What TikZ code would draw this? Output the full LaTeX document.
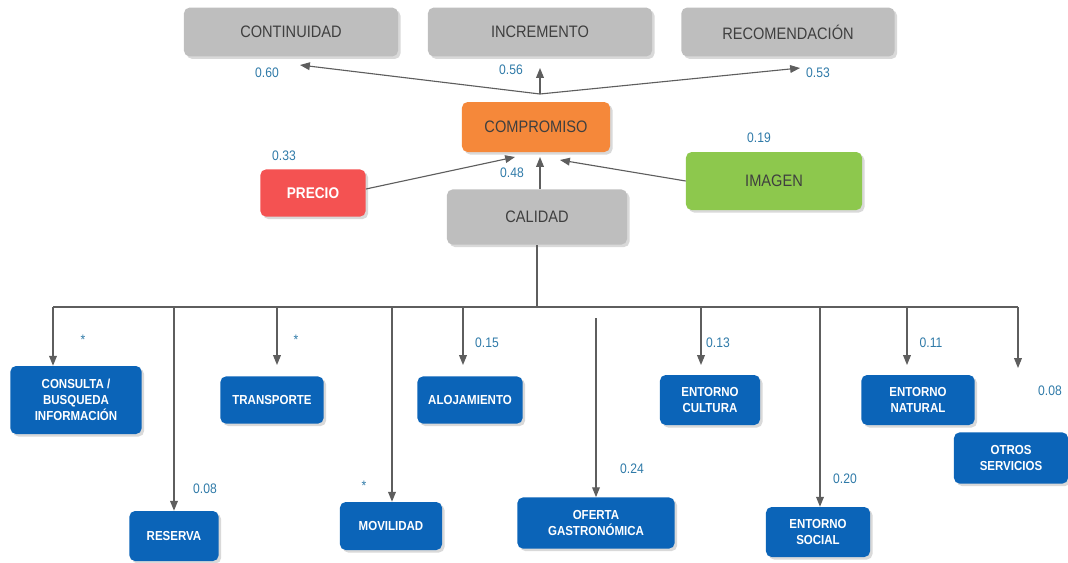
\documentclass[tikz,border=0pt]{standalone}
\usepackage{fontspec}
\setmainfont{Liberation Sans}
\newfontfamily\narrowfont[FakeStretch=0.88]{Liberation Sans}
\usetikzlibrary{
    arrows.meta,  % For arrow tips
    shadows,      % For box shadows
    calc          % For coordinate calculations
}
\definecolor{boxgray}{HTML}{BEBEBE}
\definecolor{txtgray}{HTML}{3F3F3F}
\definecolor{boxblue}{HTML}{0B64B8}
\definecolor{boxorange}{HTML}{F5883A}
\definecolor{boxred}{HTML}{F45252}
\definecolor{boxgreen}{HTML}{8DC84D}
\definecolor{linegray}{HTML}{5E5E5E}
\definecolor{coefblue}{HTML}{2F7AA8}

\begin{document}
\begin{tikzpicture}[
    x=0.025cm, y=-0.025cm, % pixel grid of the layout
    >={Triangle[length=7pt,width=5.5pt]}, % Default arrow tip
    conn/.style={draw=linegray, line width=0.8pt}, % Connector lines
    arr/.style={conn, ->},
    box/.style={rounded corners=4pt, align=center, inner sep=2pt,
        drop shadow={opacity=0.3, shadow xshift=1.8pt, shadow yshift=-1.8pt}},
    graybox/.style={box, fill=boxgray, text=txtgray, font=\narrowfont\fontsize{11.8}{13}\selectfont},
    bluebox/.style={box, fill=boxblue, text=white, font=\narrowfont\bfseries\fontsize{9.3}{11.5}\selectfont},
    coef/.style={text=coefblue, font=\narrowfont\fontsize{9.8}{11}\selectfont, inner sep=0pt}
]
    \useasboundingbox (0,0) rectangle (1068,562);

    % Outcome boxes
    \node[graybox, minimum width=5.35cm, minimum height=1.22cm] (cont) at (291,32) {CONTINUIDAD};
    \node[graybox, minimum width=5.6cm, minimum height=1.22cm] (incr) at (540,32) {INCREMENTO};
    \node[graybox, minimum width=5.33cm, minimum height=1.22cm] (recom) at (788,32) {RECOMENDACIÓN};

    % Central and driver boxes
    \node[graybox, fill=boxorange, minimum width=3.7cm, minimum height=1.25cm] (comp) at (536,127) {COMPROMISO};
    \node[graybox, fill=boxred, text=white, font=\narrowfont\bfseries\fontsize{11}{13}\selectfont,
        minimum width=2.63cm, minimum height=1.18cm] (precio) at (313,193) {PRECIO};
    \node[graybox, fill=boxgreen, minimum width=4.4cm, minimum height=1.45cm] (imagen) at (774,181) {IMAGEN};
    \node[graybox, minimum width=4.5cm, minimum height=1.38cm] (calidad) at (537,217) {CALIDAD};

    % Arrows from COMPROMISO to the outcomes
    \coordinate (hub) at (540,94);
    \coordinate (toCont) at (300,65);
    \coordinate (toIncr) at (540,68);
    \coordinate (toRecom) at (800,68);
    \draw[arr] (hub) -- (toCont);
    \draw[arr] (hub) -- (toIncr);
    \draw[arr] (hub) -- (toRecom);
    \node[coef] at (267,73) {0.60};
    \node[coef] at (511,70) {0.56};
    \node[coef] at (818,73) {0.53};

    % Arrows into COMPROMISO
    \coordinate (fromPrecio) at (515,157);
    \coordinate (fromCalidad) at (540,157);
    \coordinate (fromImagen) at (560,160);
    \draw[arr] (precio.east) ++(0,-4) -- (fromPrecio);
    \draw[arr] (calidad.north -| fromCalidad) -- (fromCalidad);
    \draw[arr] (imagen.west) -- (fromImagen);
    \node[coef] at (284,156) {0.33};
    \node[coef] at (512,173) {0.48};
    \node[coef] at (759,138) {0.19};

    % Quality dimensions
    \node[bluebox, minimum width=3.28cm, minimum height=1.7cm] (consulta) at (76,400) {CONSULTA /\\BUSQUEDA\\INFORMACIÓN};
    \node[bluebox, minimum width=2.58cm, minimum height=1.18cm] (transp) at (272,400) {TRANSPORTE};
    \node[bluebox, minimum width=2.63cm, minimum height=1.18cm] (aloj) at (470,400) {ALOJAMIENTO};
    \node[bluebox, minimum width=2.5cm, minimum height=1.25cm] (cultura) at (710,400) {ENTORNO\\CULTURA};
    \node[bluebox, minimum width=2.83cm, minimum height=1.25cm] (natural) at (918,400) {ENTORNO\\NATURAL};
    \node[bluebox, minimum width=2.85cm, minimum height=1.28cm] (otros) at (1011,458) {OTROS\\SERVICIOS};
    \node[bluebox, minimum width=2.23cm, minimum height=1.25cm] (reserva) at (174,536) {RESERVA};
    \node[bluebox, minimum width=2.55cm, minimum height=1.2cm] (movil) at (391,526) {MOVILIDAD};
    \node[bluebox, minimum width=3.93cm, minimum height=1.28cm] (oferta) at (596,523) {OFERTA\\GASTRONÓMICA};
    \node[bluebox, minimum width=2.6cm, minimum height=1.25cm] (social) at (818,532) {ENTORNO\\SOCIAL};

    % Bus from CALIDAD
    \coordinate (stem) at (537,307);
    \coordinate (busL) at (53,307);
    \coordinate (busR) at (1018,307);
    \draw[conn] (calidad.south -| stem) -- (stem);
    \draw[conn] (busL) -- (busR);

    % Branches
    \draw[arr] (busL) -- (busL |- consulta.north);
    \draw[arr] (174,307) -- (reserva.north);
    \draw[arr] (277,307) coordinate (bTransp) -- (bTransp |- 0,365);
    \draw[arr] (392,307) -- (movil.north -| 392,0);
    \draw[arr] (463,307) coordinate (bAloj) -- (bAloj |- 0,365);
    \draw[arr] (596,318) -- (oferta.north);
    \draw[arr] (701,307) coordinate (bCult) -- (bCult |- 0,365);
    \draw[arr] (820,307) -- (social.north -| 820,0);
    \draw[arr] (907,307) coordinate (bNat) -- (bNat |- 0,365);
    \draw[arr] (busR) -- (busR |- 0,368);

    % Coefficients
    \node[coef] at (83,340) {*};
    \node[coef] at (205,489) {0.08};
    \node[coef] at (296,340) {*};
    \node[coef] at (364,486) {*};
    \node[coef] at (487,343) {0.15};
    \node[coef] at (632,469) {0.24};
    \node[coef] at (718,343) {0.13};
    \node[coef] at (845,479) {0.20};
    \node[coef] at (931,343) {0.11};
    \node[coef] at (1050,391) {0.08};

\end{tikzpicture}
\end{document}
